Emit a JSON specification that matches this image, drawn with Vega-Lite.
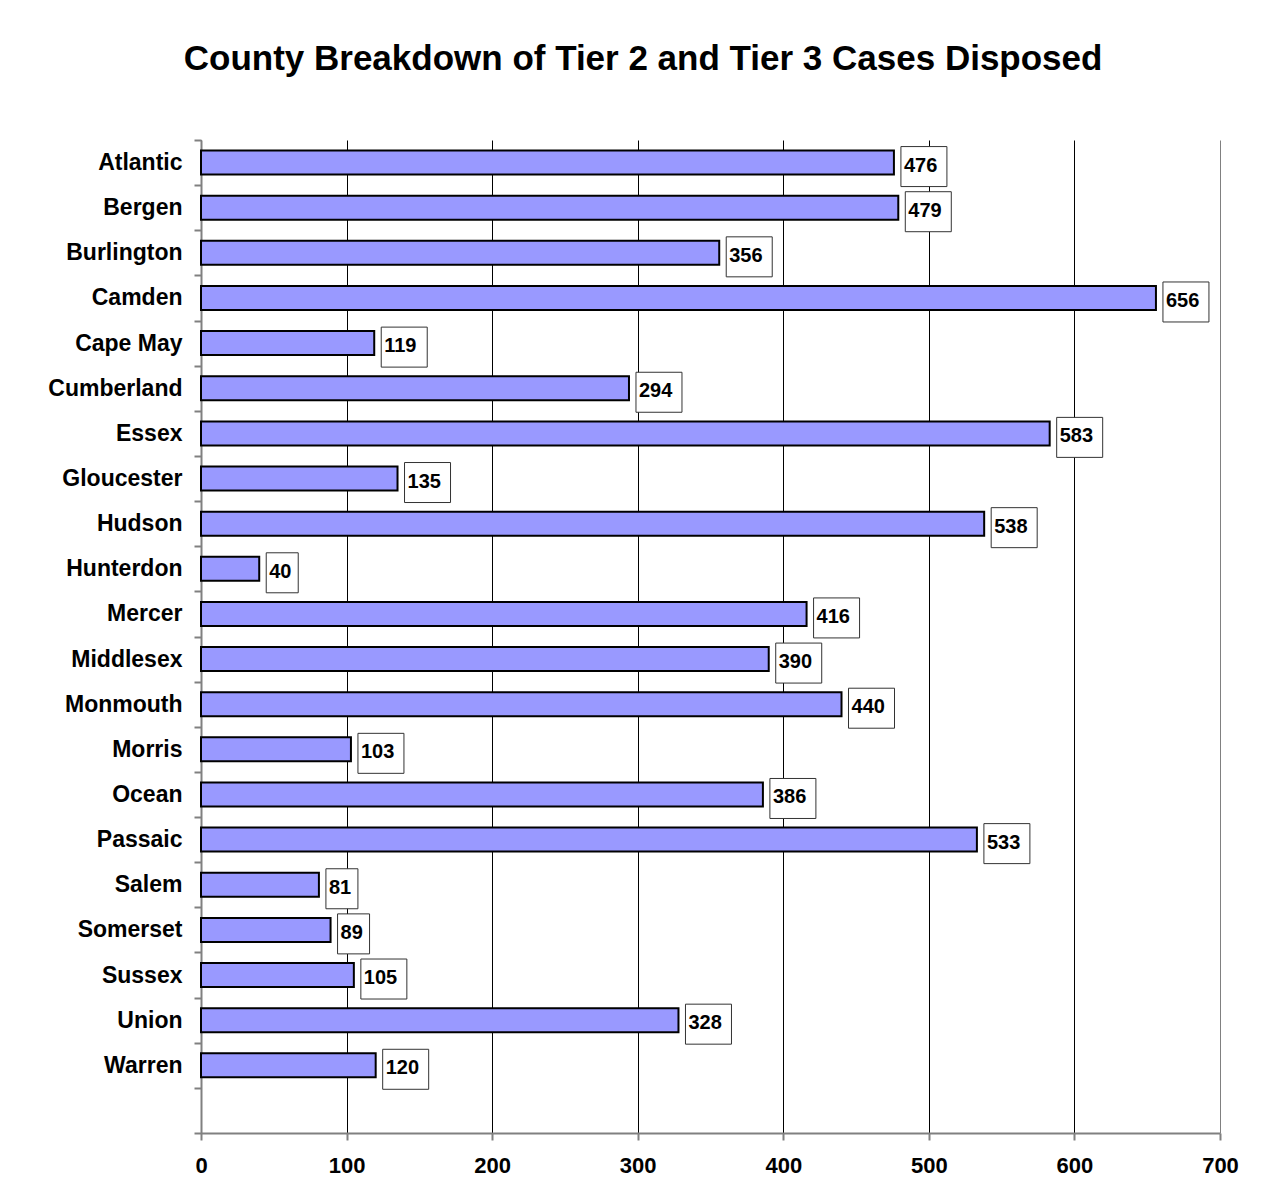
{
  "$schema": "https://vega.github.io/schema/vega-lite/v6.json",
  "autosize": "none",
  "width": 1019,
  "height": 993,
  "padding": {"left": 201, "top": 140, "right": 52, "bottom": 55},
  "background": "white",
  "title": {
    "text": "County Breakdown of Tier 2 and Tier 3 Cases Disposed",
    "font": "Liberation Sans",
    "fontSize": 35,
    "fontWeight": "bold",
    "color": "black",
    "anchor": "middle",
    "frame": "bounds",
    "baseline": "alphabetic",
    "offset": 24
  },
  "config": {
    "view": {"stroke": null},
    "font": "Liberation Sans"
  },
  "data": {
    "values": [
      {"county": "Atlantic", "cases": 476},
      {"county": "Bergen", "cases": 479},
      {"county": "Burlington", "cases": 356},
      {"county": "Camden", "cases": 656},
      {"county": "Cape May", "cases": 119},
      {"county": "Cumberland", "cases": 294},
      {"county": "Essex", "cases": 583},
      {"county": "Gloucester", "cases": 135},
      {"county": "Hudson", "cases": 538},
      {"county": "Hunterdon", "cases": 40},
      {"county": "Mercer", "cases": 416},
      {"county": "Middlesex", "cases": 390},
      {"county": "Monmouth", "cases": 440},
      {"county": "Morris", "cases": 103},
      {"county": "Ocean", "cases": 386},
      {"county": "Passaic", "cases": 533},
      {"county": "Salem", "cases": 81},
      {"county": "Somerset", "cases": 89},
      {"county": "Sussex", "cases": 105},
      {"county": "Union", "cases": 328},
      {"county": "Warren", "cases": 120}
    ]
  },
  "encoding": {
    "y": {
      "field": "county",
      "type": "nominal",
      "scale": {
        "domain": ["Atlantic","Bergen","Burlington","Camden","Cape May","Cumberland","Essex","Gloucester","Hudson","Hunterdon","Mercer","Middlesex","Monmouth","Morris","Ocean","Passaic","Salem","Somerset","Sussex","Union","Warren"," "],
        "paddingInner": 0,
        "paddingOuter": 0
      },
      "axis": {
        "title": null,
        "domainColor": "#808080",
        "domainWidth": 2,
        "tickColor": "#808080",
        "tickWidth": 2,
        "tickSize": 7,
        "tickBand": "extent",
        "labelFont": "Liberation Sans",
        "labelFontSize": 23,
        "labelFontWeight": "bold",
        "labelColor": "black",
        "labelPadding": 12
      }
    },
    "x": {
      "field": "cases",
      "type": "quantitative",
      "scale": {"domain": [0, 700], "nice": false},
      "axis": {
        "title": null,
        "values": [0, 100, 200, 300, 400, 500, 600, 700],
        "grid": true,
        "gridColor": {"condition": {"test": "datum.value == 700", "value": "#808080"}, "value": "black"},
        "gridWidth": 1,
        "domainColor": "#808080",
        "domainWidth": 2,
        "tickColor": "#808080",
        "tickWidth": 2,
        "tickSize": 7,
        "labelFlush": false,
        "labelFont": "Liberation Sans",
        "labelFontSize": 22,
        "labelFontWeight": "bold",
        "labelColor": "black",
        "labelPadding": 15
      }
    }
  },
  "layer": [
    {
      "mark": {"type": "bar", "height": 24, "fill": "#9999FF", "stroke": "black", "strokeWidth": 2}
    },
    {
      "transform": [{"filter": "datum.cases >= 100"}],
      "mark": {"type": "bar", "height": 40, "yOffset": 4, "xOffset": 7, "x2Offset": 53, "fill": "white", "stroke": "#333333", "strokeWidth": 1},
      "encoding": {"x2": {"field": "cases"}}
    },
    {
      "transform": [{"filter": "datum.cases < 100"}],
      "mark": {"type": "bar", "height": 40, "yOffset": 4, "xOffset": 7, "x2Offset": 39, "fill": "white", "stroke": "#333333", "strokeWidth": 1},
      "encoding": {"x2": {"field": "cases"}}
    },
    {
      "mark": {"type": "text", "align": "left", "baseline": "middle", "dx": 10, "dy": 3, "font": "Liberation Sans", "fontSize": 20, "fontWeight": "bold", "color": "black"},
      "encoding": {"text": {"field": "cases", "type": "quantitative"}}
    }
  ]
}
